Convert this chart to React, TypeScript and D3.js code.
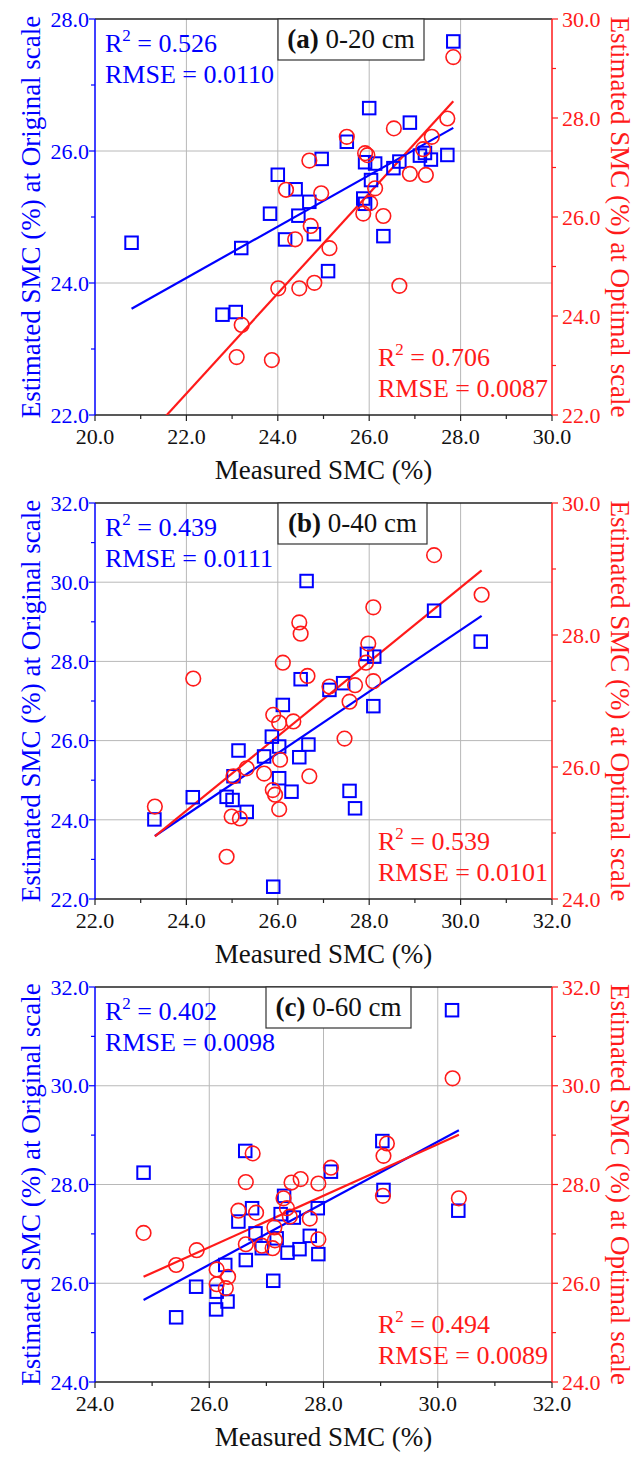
import React from "react";
import * as d3 from "d3";

const W = 636;
const H = 1458;

// ---------- Panel (a) 0-20 cm ----------
const aOriginal: [number, number][] = [
  [20.8, 24.61], [23.2, 24.53], [22.79, 23.52], [23.08, 23.56], [23.83, 25.05],
  [24.45, 25.02], [24.16, 24.66], [24.79, 24.74], [25.1, 24.18], [24.0, 25.64],
  [24.96, 25.88], [24.39, 25.42], [24.69, 25.23], [25.51, 26.14], [27.84, 27.66],
  [26.0, 26.65], [26.89, 26.43], [27.71, 25.94], [25.91, 25.83], [26.13, 25.81],
  [26.53, 25.74], [26.66, 25.84], [27.11, 25.93], [27.22, 25.97], [27.35, 25.87],
  [26.04, 25.56], [25.87, 25.28], [25.91, 25.2], [26.31, 24.71],
];
const aOptimal: [number, number][] = [
  [24.69, 27.14], [24.18, 26.55], [24.95, 26.48], [25.51, 27.62], [27.84, 29.23],
  [26.54, 27.79], [27.71, 27.99], [27.37, 27.62], [25.91, 27.29], [25.96, 27.25],
  [27.18, 27.37], [26.89, 26.87], [27.24, 26.85], [26.13, 26.58], [26.02, 26.28],
  [25.87, 26.07], [26.31, 26.02], [26.66, 24.61], [24.72, 25.82], [24.38, 25.55],
  [25.13, 25.37], [24.01, 24.56], [24.47, 24.56], [24.8, 24.67], [23.21, 23.82],
  [23.1, 23.17], [23.87, 23.11],
];
const aOriginalFit: [number, number][] = [[20.8, 23.61], [27.84, 26.35]];
const aOptimalFit: [number, number][] = [[20.8, 21.22], [27.84, 28.34]];

// ---------- Panel (b) 0-40 cm ----------
const bOriginal: [number, number][] = [
  [26.63, 30.03], [26.5, 27.55], [27.43, 27.45], [27.13, 27.28], [26.11, 26.9],
  [29.42, 29.28], [30.44, 28.5], [27.95, 28.19], [28.11, 28.12], [28.09, 26.87],
  [27.57, 24.73], [27.69, 24.29], [25.87, 26.1], [26.03, 25.85], [25.14, 25.75],
  [25.7, 25.6], [26.47, 25.58], [26.67, 25.9], [25.03, 25.1], [26.03, 25.05],
  [26.3, 24.71], [24.88, 24.58], [25.01, 24.5], [25.32, 24.2], [24.14, 24.57],
  [23.3, 24.01], [25.9, 22.31],
];
const bOptimal: [number, number][] = [
  [29.42, 29.21], [30.46, 28.61], [28.09, 28.42], [27.98, 27.87], [27.93, 27.58],
  [28.09, 27.3], [27.69, 27.24], [27.57, 26.99], [26.47, 28.19], [26.5, 28.02],
  [26.11, 27.58], [24.15, 27.34], [26.65, 27.38], [27.13, 27.22], [27.46, 26.43],
  [25.9, 26.79], [26.03, 26.67], [26.34, 26.69], [26.05, 26.11], [25.7, 25.9],
  [26.69, 25.86], [25.32, 25.98], [25.03, 25.86], [25.89, 25.65], [25.94, 25.58],
  [26.03, 25.36], [24.99, 25.25], [25.17, 25.22], [23.31, 25.4], [24.88, 24.64],
];
const bOriginalFit: [number, number][] = [[23.31, 23.59], [30.46, 29.15]];
const bOptimalFit: [number, number][] = [[23.31, 24.95], [30.46, 28.98]];

// ---------- Panel (c) 0-60 cm ----------
const cOriginal: [number, number][] = [
  [30.25, 31.53], [26.63, 28.68], [24.85, 28.24], [28.13, 28.26], [29.03, 28.88],
  [29.05, 27.89], [30.36, 27.47], [27.31, 27.77], [26.75, 27.52], [27.9, 27.52],
  [27.25, 27.4], [27.48, 27.33], [26.51, 27.25], [26.81, 27.01], [27.18, 26.91],
  [27.76, 26.96], [26.92, 26.71], [27.58, 26.69], [27.37, 26.62], [27.91, 26.59],
  [26.64, 26.47], [26.28, 26.37], [27.12, 26.05], [25.77, 25.93], [26.13, 25.83],
  [26.32, 25.63], [26.12, 25.47], [25.42, 25.31],
];
const cOptimal: [number, number][] = [
  [30.26, 30.15], [26.76, 28.63], [29.11, 28.83], [29.05, 28.58], [28.13, 28.34],
  [26.64, 28.05], [27.44, 28.04], [27.6, 28.11], [27.91, 28.02], [29.04, 27.77],
  [30.37, 27.72], [27.3, 27.72], [27.36, 27.52], [27.41, 27.35], [26.51, 27.47],
  [26.82, 27.43], [27.76, 27.31], [27.14, 27.13], [27.91, 26.89], [27.15, 26.87],
  [27.11, 26.71], [26.92, 26.76], [26.64, 26.79], [24.85, 27.02], [25.78, 26.67],
  [25.42, 26.37], [26.13, 26.28], [26.33, 26.13], [26.13, 25.98], [26.29, 25.9],
];
const cOriginalFit: [number, number][] = [[24.85, 25.66], [30.37, 29.1]];
const cOptimalFit: [number, number][] = [[24.85, 26.13], [30.37, 29.01]];

// Axis domains / tick ranges
const xDomains: [number, number][] = [[20, 30], [22, 32], [24, 32]];
const leftDomains: [number, number][] = [[22, 28], [22, 32], [24, 32]];
const rightDomains: [number, number][] = [[22, 30], [24, 30], [24, 32]];
const panelLabels = ["(a)", "(b)", "(c)"];
const depthLabels = ["0-20 cm", "0-40 cm", "0-60 cm"];
const originalStats = [["0.526", "0.0110"], ["0.439", "0.0111"], ["0.402", "0.0098"]];
const optimalStats = [["0.706", "0.0087"], ["0.539", "0.0101"], ["0.494", "0.0089"]];

const BLUE = "#0000ff";
const RED = "#ff1a1a";
const FONT = "'Liberation Serif', 'Times New Roman', serif";

const layouts = [
  { top: 19, bottom: 415, boxX: 278, boxW: 146 },
  { top: 503, bottom: 899, boxX: 278, boxW: 149 },
  { top: 987, bottom: 1382, boxX: 266, boxW: 145 },
];
const LEFT = 95;
const RIGHT = 552;

type P = [number, number];

function Panel({ i, orig, opt, origFit, optFit }: { i: number; orig: P[]; opt: P[]; origFit: P[]; optFit: P[] }) {
  const L = layouts[i];
  const x = d3.scaleLinear().domain(xDomains[i]).range([LEFT, RIGHT]);
  const yl = d3.scaleLinear().domain(leftDomains[i]).range([L.bottom, L.top]);
  const yr = d3.scaleLinear().domain(rightDomains[i]).range([L.bottom, L.top]);
  const fmt = d3.format(".1f");
  const rng = (d: [number, number], s: number) => d3.range(d[0], d[1] + 1e-9, s);
  const xMajor = rng(xDomains[i], 2);
  const xMinor = rng(xDomains[i], 1);
  const lMajor = rng(leftDomains[i], 2);
  const lMinor = rng(leftDomains[i], 1);
  const rMajor = rng(rightDomains[i], 2);
  const rMinor = rng(rightDomains[i], 1);
  const lineL = d3.line<P>().x((d) => x(d[0])).y((d) => yl(d[1]));
  const lineR = d3.line<P>().x((d) => x(d[0])).y((d) => yr(d[1]));
  const clipId = `clip${i}`;
  const midY = (L.top + L.bottom) / 2;
  const sq = 12.5;
  return (
    <g>
      <defs>
        <clipPath id={clipId}>
          <rect x={LEFT} y={L.top} width={RIGHT - LEFT} height={L.bottom - L.top} />
        </clipPath>
      </defs>
      {/* grid */}
      {xMajor.filter((v) => v > xDomains[i][0] && v < xDomains[i][1]).map((v) => (
        <line key={"gx" + v} x1={x(v)} x2={x(v)} y1={L.top} y2={L.bottom} stroke="#b8b8b8" strokeWidth={1} />
      ))}
      {lMajor.filter((v) => v > leftDomains[i][0] && v < leftDomains[i][1]).map((v) => (
        <line key={"gy" + v} x1={LEFT} x2={RIGHT} y1={yl(v)} y2={yl(v)} stroke="#b8b8b8" strokeWidth={1} />
      ))}
      {/* frame */}
      <line x1={LEFT} x2={RIGHT} y1={L.top} y2={L.top} stroke="#222" strokeWidth={1.5} />
      <line x1={LEFT} x2={RIGHT} y1={L.bottom} y2={L.bottom} stroke="#222" strokeWidth={1.5} />
      <line x1={LEFT} x2={LEFT} y1={L.top} y2={L.bottom} stroke={BLUE} strokeWidth={1.5} />
      <line x1={RIGHT} x2={RIGHT} y1={L.top} y2={L.bottom} stroke={RED} strokeWidth={1.5} />
      {/* bottom ticks */}
      {xMinor.map((v) => (
        <line key={"xt" + v} x1={x(v)} x2={x(v)} y1={L.bottom} y2={L.bottom + (v % 2 === 0 ? 6 : 4)} stroke="#222" strokeWidth={1.2} />
      ))}
      {xMajor.map((v) => (
        <text key={"xl" + v} x={x(v)} y={L.bottom + 29} textAnchor="middle" fontSize={22} fontFamily={FONT} fill="#111">
          {fmt(v)}
        </text>
      ))}
      {/* left ticks */}
      {lMinor.map((v) => (
        <line key={"lt" + v} x1={LEFT} x2={LEFT - ((v - leftDomains[i][0]) % 2 === 0 ? 6 : 4)} y1={yl(v)} y2={yl(v)} stroke={BLUE} strokeWidth={1.2} />
      ))}
      {lMajor.map((v) => (
        <text key={"ll" + v} x={LEFT - 6} y={yl(v)} dy="0.35em" textAnchor="end" fontSize={22} fontFamily={FONT} fill={BLUE}>
          {fmt(v)}
        </text>
      ))}
      {/* right ticks */}
      {rMinor.map((v) => (
        <line key={"rt" + v} x1={RIGHT} x2={RIGHT + ((v - rightDomains[i][0]) % 2 === 0 ? 6 : 4)} y1={yr(v)} y2={yr(v)} stroke={RED} strokeWidth={1.2} />
      ))}
      {rMajor.map((v) => (
        <text key={"rl" + v} x={RIGHT + 10} y={yr(v)} dy="0.35em" textAnchor="start" fontSize={22} fontFamily={FONT} fill={RED}>
          {fmt(v)}
        </text>
      ))}
      {/* axis titles */}
      <text transform={`translate(31,${midY}) rotate(-90)`} textAnchor="middle" dy="0.35em" fontSize={27} fontFamily={FONT} fill={BLUE}>
        Estimated SMC (%) at Original scale
      </text>
      <text transform={`translate(620,${midY}) rotate(90)`} textAnchor="middle" dy="0.35em" fontSize={27} fontFamily={FONT} fill={RED}>
        Estimated SMC (%) at Optimal scale
      </text>
      <text x={(LEFT + RIGHT) / 2} y={L.bottom + 64} textAnchor="middle" fontSize={27} fontFamily={FONT} fill="#111">
        Measured SMC (%)
      </text>
      {/* data */}
      <g clipPath={`url(#${clipId})`}>
        <path d={lineL(origFit) || ""} stroke={BLUE} strokeWidth={2.2} fill="none" />
        <path d={lineR(optFit) || ""} stroke={RED} strokeWidth={2.2} fill="none" />
      </g>
      {orig.map((d, k) => (
        <rect key={"o" + k} x={x(d[0]) - sq / 2} y={yl(d[1]) - sq / 2} width={sq} height={sq} fill="none" stroke={BLUE} strokeWidth={2} />
      ))}
      {opt.map((d, k) => (
        <circle key={"c" + k} cx={x(d[0])} cy={yr(d[1])} r={7.3} fill="none" stroke={RED} strokeWidth={1.6} />
      ))}
      {/* label box */}
      <rect x={L.boxX} y={L.top} width={L.boxW} height={41} fill="white" stroke="#333" strokeWidth={1.2} />
      <text x={L.boxX + L.boxW / 2} y={L.top + 29} textAnchor="middle" fontSize={27} fontFamily={FONT} fill="#111">
        <tspan fontWeight="bold">{panelLabels[i]}</tspan>
        <tspan> {depthLabels[i]}</tspan>
      </text>
      {/* stats */}
      <text x={105} y={L.top + 33} fontSize={26} fontFamily={FONT} fill={BLUE}>
        R<tspan fontSize={17} dy={-11}>2</tspan>
        <tspan dy={11}> = {originalStats[i][0]}</tspan>
      </text>
      <text x={105} y={L.top + 64} fontSize={26} fontFamily={FONT} fill={BLUE}>
        RMSE = {originalStats[i][1]}
      </text>
      <text x={378} y={L.bottom - 49} fontSize={26} fontFamily={FONT} fill={RED}>
        R<tspan fontSize={17} dy={-11}>2</tspan>
        <tspan dy={11}> = {optimalStats[i][0]}</tspan>
      </text>
      <text x={378} y={L.bottom - 18} fontSize={26} fontFamily={FONT} fill={RED}>
        RMSE = {optimalStats[i][1]}
      </text>
    </g>
  );
}

export default function App() {
  return (
    <svg width={W} height={H} style={{ position: "absolute", left: 0, top: 0, background: "white" }}>
      <rect width={W} height={H} fill="white" />
      <Panel i={0} orig={aOriginal} opt={aOptimal} origFit={aOriginalFit} optFit={aOptimalFit} />
      <Panel i={1} orig={bOriginal} opt={bOptimal} origFit={bOriginalFit} optFit={bOptimalFit} />
      <Panel i={2} orig={cOriginal} opt={cOptimal} origFit={cOriginalFit} optFit={cOptimalFit} />
    </svg>
  );
}
